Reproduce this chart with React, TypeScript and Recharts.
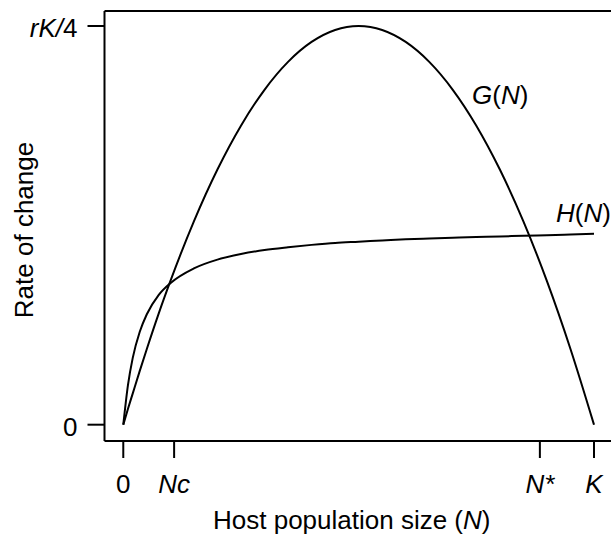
import { LineChart, Line, XAxis, YAxis, ReferenceLine, ReferenceDot } from 'recharts';

// host population size, as a fraction of K
const nValues = [0, 0.01, 0.02, 0.035, 0.05, 0.075, 0.1, 0.15, 0.2, 0.25, 0.3, 0.35, 0.4, 0.45, 0.5, 0.55, 0.6, 0.65, 0.7, 0.75, 0.8, 0.85, 0.9, 0.95, 1];
// G(N), in units of rK/4
const gValues = [0, 0.04, 0.078, 0.135, 0.19, 0.278, 0.36, 0.51, 0.64, 0.75, 0.84, 0.91, 0.96, 0.99, 1, 0.99, 0.96, 0.91, 0.84, 0.75, 0.64, 0.51, 0.36, 0.19, 0];
// H(N), in units of rK/4
const hValues = [0, 0.1, 0.167, 0.233, 0.277, 0.325, 0.355, 0.392, 0.414, 0.428, 0.438, 0.445, 0.451, 0.456, 0.459, 0.462, 0.465, 0.467, 0.469, 0.471, 0.472, 0.474, 0.475, 0.477, 0.479];

const xTicks = [0, 0.108, 0.885, 1];
const xTickLabels = ['0', 'Nc', 'N*', 'K'];
const yTicks = [0, 1];

const xDomain: [number, number] = [-0.0399, 1.0361];
const yDomain: [number, number] = [-0.0409, 1.0376];

const gLabelAt = [0.741, 0.8045];
const hLabelAt = [0.9192, 0.5088];

const data = nValues.map((n, i) => ({ n, g: gValues[i], h: hValues[i] }));

const FONT = '"Liberation Sans", Arial, sans-serif';
const SIZE = 26;

const XTick = (props: any) => {
  const { x, y, index } = props;
  const label = xTickLabels[index];
  return (
    <text x={x} y={y} dy={35} textAnchor="middle" fontFamily={FONT} fontSize={SIZE} fill="#000"
      fontStyle={label === '0' ? 'normal' : 'italic'}>
      {label}
    </text>
  );
};

const YTick = (props: any) => {
  const { x, y, index } = props;
  return (
    <text x={x} y={y} dy={11.5} textAnchor="end" fontFamily={FONT} fontSize={SIZE} fill="#000">
      {index === 0 ? '0' : (
        <>
          <tspan fontStyle="italic">rK/</tspan>
          <tspan>4</tspan>
        </>
      )}
    </text>
  );
};

const CurveLabel = (props: any) => {
  const { viewBox, name } = props;
  return (
    <text x={viewBox.x} y={viewBox.y} fontFamily={FONT} fontSize={SIZE} fill="#000">
      <tspan fontStyle="italic">{name}</tspan>
      <tspan>(</tspan>
      <tspan fontStyle="italic">N</tspan>
      <tspan>)</tspan>
    </text>
  );
};

const XTitle = (props: any) => {
  const vb = props.viewBox;
  return (
    <text x={vb.x + vb.width / 2 - 6} y={vb.y + 88} textAnchor="middle" fontFamily={FONT} fontSize={SIZE} fill="#000">
      Host population size (<tspan fontStyle="italic">N</tspan>)
    </text>
  );
};

const YTitle = (props: any) => {
  const vb = props.viewBox;
  const cy = vb.y + vb.height / 2 + 4;
  return (
    <text transform={`translate(${vb.x + 33},${cy}) rotate(-90)`} textAnchor="middle" fontFamily={FONT} fontSize={SIZE} fill="#000">
      Rate of change
    </text>
  );
};

export default function App() {
  return (
    <>
      <style>{'body{margin:0;overflow:hidden}'}</style>
      <LineChart width={611} height={537} data={data} margin={{ top: 11, right: 0, bottom: 0, left: 0 }}>
        <XAxis
          dataKey="n"
          type="number"
          domain={xDomain}
          allowDataOverflow
          ticks={xTicks}
          interval={0}
          height={96}
          tickSize={17}
          tickMargin={0}
          stroke="#000"
          strokeWidth={2}
          tickLine={{ stroke: '#000', strokeWidth: 2 }}
          tick={<XTick />}
          label={<XTitle />}
        />
        <YAxis
          type="number"
          domain={yDomain}
          allowDataOverflow
          ticks={yTicks}
          interval={0}
          width={104.5}
          tickSize={17}
          tickMargin={10}
          stroke="#000"
          strokeWidth={2}
          tickLine={{ stroke: '#000', strokeWidth: 2 }}
          tick={<YTick />}
          label={<YTitle />}
        />
        <ReferenceLine y={yDomain[1]} stroke="#000" strokeWidth={2} />
        <Line type="monotone" dataKey="g" stroke="#000" strokeWidth={2} dot={false} isAnimationActive={false} />
        <Line type="monotone" dataKey="h" stroke="#000" strokeWidth={2} dot={false} isAnimationActive={false} />
        <ReferenceDot x={gLabelAt[0]} y={gLabelAt[1]} r={0} fill="none" stroke="none" label={<CurveLabel name="G" />} />
        <ReferenceDot x={hLabelAt[0]} y={hLabelAt[1]} r={0} fill="none" stroke="none" label={<CurveLabel name="H" />} />
      </LineChart>
    </>
  );
}
